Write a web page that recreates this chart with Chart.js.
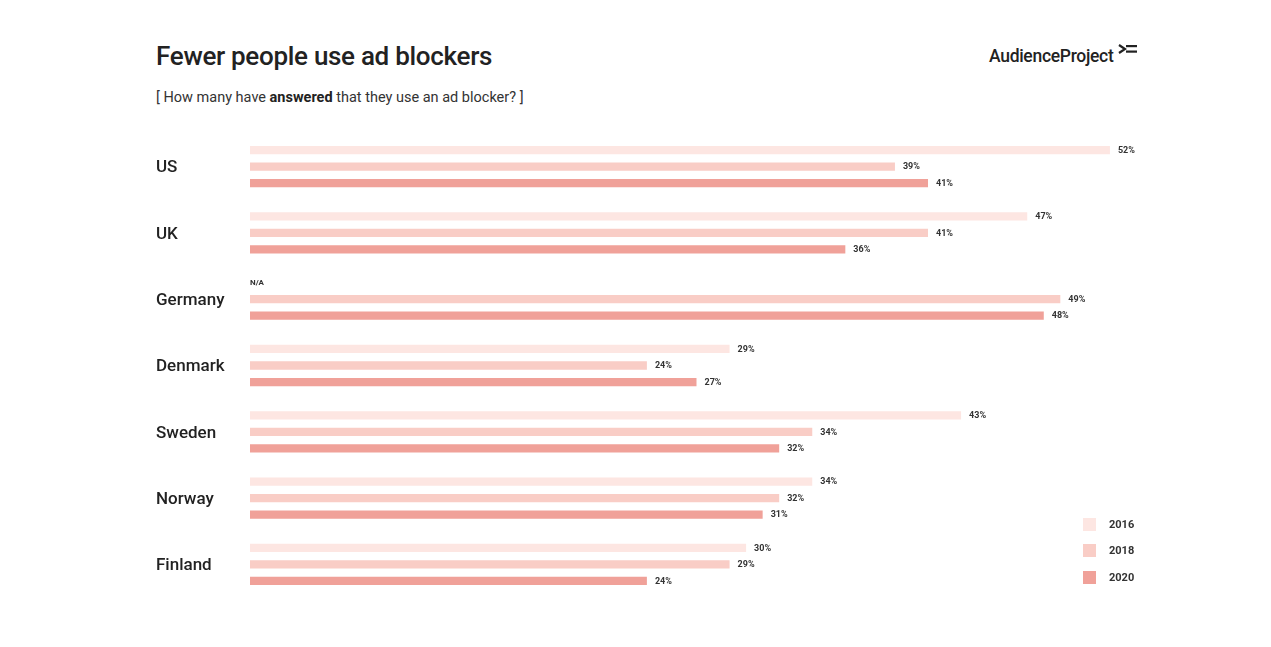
<!DOCTYPE html>
<html>
<head>
<meta charset="utf-8">
<script src="https://cdn.jsdelivr.net/npm/chart.js@4"></script>
<style>
  html, body { margin: 0; padding: 0; background: #fff; }
  body { width: 1271px; height: 647px; position: relative; overflow: hidden; font-family: Roboto, "Open Sans", sans-serif; color: #222; }
  #wrap { position: absolute; left: 0; top: 0; width: 1271px; height: 647px; }
  h1 { position: absolute; left: 156px; top: 41px; margin: 0; font-size: 26px; font-weight: 500; letter-spacing: -0.3px; color: #222; }
  .sub { position: absolute; left: 156px; top: 89px; font-size: 14.5px; color: #333; }
  .sub b { font-weight: 700; color: #222; }
  .logo { position: absolute; left: 989px; top: 46px; font-size: 17.5px; font-weight: 500; color: #222; letter-spacing: -0.3px; }
  .logo svg { position: absolute; left: 129px; top: -2px; }
  #legend { position: absolute; left: 1083px; top: 511px; }
  .item { height: 26.5px; display: flex; align-items: center; font-size: 11px; font-weight: 700; color: #333; }
  .sw { width: 13px; height: 13px; margin-right: 13px; }
</style>
</head>
<body>
<h1>Fewer people use ad blockers</h1>
<div class="sub">[ How many have <b>answered</b> that they use an ad blocker? ]</div>
<div class="logo">AudienceProject<svg width="20" height="12" viewBox="0 0 20 12"><path d="M1 1 L7 5 L1 9" fill="none" stroke="#222" stroke-width="2.2"/><rect x="8" y="1" width="11" height="2.2" fill="#222"/><rect x="8" y="6.5" width="11" height="2.2" fill="#222"/></svg></div>
<div id="wrap"><canvas id="chart" width="1271" height="647"></canvas></div>
<div id="legend"></div>
<script>
var countries = ['US', 'UK', 'Germany', 'Denmark', 'Sweden', 'Norway', 'Finland'];
var years = ['2016', '2018', '2020'];
var values2016 = [52, 47, null, 29, 43, 34, 30];
var values2018 = [39, 41, 49, 24, 34, 32, 29];
var values2020 = [41, 36, 48, 27, 32, 31, 24];
var colors = ['#fde6e2', '#f9cdc6', '#f0a199'];

var series = [values2016, values2018, values2020];

var legendEl = document.getElementById('legend');
years.forEach(function(y, i) {
  var div = document.createElement('div');
  div.className = 'item';
  div.innerHTML = '<span class="sw" style="background:' + colors[i] + '"></span>' + y;
  legendEl.appendChild(div);
});

var valueLabels = {
  id: 'valueLabels',
  afterDatasetsDraw: function(chart) {
    var ctx = chart.ctx;
    var xScale = chart.scales.x;
    ctx.save();
    ctx.fillStyle = '#333';
    ctx.textBaseline = 'middle';
    ctx.textAlign = 'left';
    chart.data.datasets.forEach(function(ds, di) {
      var meta = chart.getDatasetMeta(di);
      meta.data.forEach(function(el, i) {
        var v = ds.data[i];
        if (v === null) {
          ctx.font = '700 8px Roboto, sans-serif';
          ctx.fillText('N/A', xScale.getPixelForValue(0), el.y);
        } else {
          ctx.font = '700 9px Roboto, sans-serif';
          ctx.fillText(v + '%', el.x + 8, el.y + 0.5);
        }
      });
    });
    ctx.restore();
  }
};

new Chart(document.getElementById('chart').getContext('2d'), {
  type: 'bar',
  data: {
    labels: countries,
    datasets: series.map(function(d, i) {
      return {
        label: years[i],
        data: d,
        backgroundColor: colors[i],
        borderWidth: 0,
        categoryPercentage: 0.747,
        barPercentage: 0.5
      };
    })
  },
  options: {
    indexAxis: 'y',
    responsive: false,
    animation: false,
    layout: { padding: { top: 133.5, bottom: 49.5, left: 156, right: 128 } },
    plugins: {
      legend: { display: false },
      tooltip: { enabled: false }
    },
    scales: {
      x: { display: false, min: 0, max: 54 },
      y: {
        grid: { display: false },
        border: { display: false },
        ticks: {
          crossAlign: 'far',
          color: '#222',
          padding: 0,
          labelOffset: 1.5,
          font: { family: 'Roboto, sans-serif', size: 17, weight: '500' }
        },
        afterFit: function(scale) { scale.width = 94; }
      }
    }
  },
  plugins: [valueLabels]
});
</script>
</body>
</html>
